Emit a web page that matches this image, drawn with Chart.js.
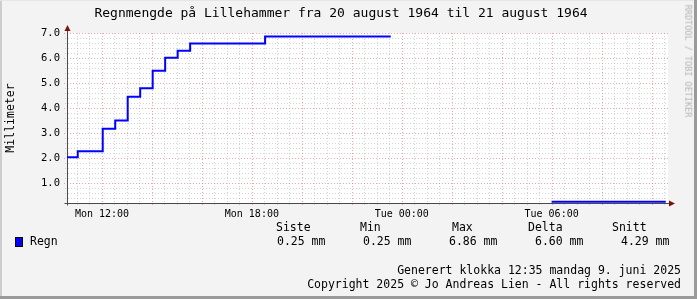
<!DOCTYPE html>
<html>
<head>
<meta charset="utf-8">
<script src="https://cdn.jsdelivr.net/npm/chart.js@4/dist/chart.umd.min.js"></script>
<style>
  html, body { margin: 0; padding: 0; background: #f3f3f3; }
  #wrap { position: relative; width: 697px; height: 299px; background: #f3f3f3; overflow: hidden;
          font-family: "DejaVu Sans Mono", monospace; color: #000; }
  #wrap canvas { position: absolute; left: 0; top: 0; }
  .t { position: absolute; white-space: pre; line-height: 1; }
  .frame { position: absolute; }
</style>
</head>
<body>
<div id="wrap">
  <canvas id="myRainChart" width="697" height="299"></canvas>
  <div class="t" id="title" style="left:0;width:682px;text-align:center;top:6px;font-size:13px;">Regnmengde på Lillehammer fra 20 august 1964 til 21 august 1964</div>
  <div class="t" style="left:11px;top:118px;font-size:11.5px;transform:translate(-50%,-50%) rotate(-90deg);">Millimeter</div>
  <div class="t" style="left:688px;top:61px;font-size:8.5px;color:#b4b4b4;transform:translate(-50%,-50%) rotate(90deg);">RRDTOOL / TOBI OETIKER</div>
  <div id="legend"></div>
  <div class="t" style="right:16px;top:265px;font-size:11.5px;">Generert klokka 12:35 mandag 9. juni 2025</div>
  <div class="t" style="right:16px;top:279px;font-size:11.5px;">Copyright 2025 © Jo Andreas Lien - All rights reserved</div>
  <div class="frame" style="left:0;top:0;width:2px;height:299px;background:#cdcdcd;"></div>
  <div class="frame" style="left:0;top:0;width:697px;height:1px;background:#e6e6e6;"></div>
  <div class="frame" style="right:0;top:0;width:3px;height:299px;background:#9a9a9a;"></div>
  <div class="frame" style="left:0;bottom:0;width:697px;height:3px;background:#9a9a9a;"></div>
</div>
<script>
// hours since Mon 00:00
var stepHours = [10.6, 11.03, 12.03, 12.53, 13.03, 13.53, 14.03, 14.53, 15.03, 15.53, 18.53, 23.56];
var stepValues = [2.03, 2.27, 3.17, 3.50, 4.45, 4.79, 5.49, 6.01, 6.29, 6.58, 6.86, 6.86];
var laterHours = [30.0, 34.57];
var laterValues = [0.25, 0.25];

var xMin = 10.6, xMax = 34.66;
var yMin = 0.2, yMax = 7.0;
var tickHours = [12, 18, 24, 30];
var tickLabels = ["Mon 12:00", "Mon 18:00", "Tue 00:00", "Tue 06:00"];
var yTicks = [1, 2, 3, 4, 5, 6, 7];

var legendHead = ["Siste", "Min", "Max", "Delta", "Snitt"];
var legendVals = ["0.25 mm", "0.25 mm", "6.86 mm", "6.60 mm", "4.29 mm"];

// legend rows (html text)
(function () {
  var lg = document.getElementById("legend");
  var headX = [276, 360, 452, 528, 612];
  var valX = [277, 363, 449, 535, 621];
  var html = '';
  legendHead.forEach(function (h, i) {
    html += '<div class="t" style="left:' + headX[i] + 'px;top:222px;font-size:11.5px;">' + h + '</div>';
  });
  legendVals.forEach(function (v, i) {
    html += '<div class="t" style="left:' + valX[i] + 'px;top:236px;font-size:11.5px;">' + v + '</div>';
  });
  html += '<div class="frame" style="left:15px;top:237px;width:6px;height:8px;background:#0000ff;border:1px solid #000;"></div>';
  html += '<div class="t" style="left:30px;top:236px;font-size:11.5px;">Regn</div>';
  lg.innerHTML = html;
})();

var points = stepHours.map(function (h, i) { return { x: h, y: stepValues[i] }; });
points.push({ x: 27, y: null });
laterHours.forEach(function (h, i) { points.push({ x: h, y: laterValues[i] }); });

// rrd style grid, axes and arrows
var rrdGrid = {
  id: 'rrdGrid',
  beforeDatasetsDraw: function (chart) {
    var c = chart.ctx, a = chart.chartArea;
    var xs = chart.scales.x, ys = chart.scales.y;
    c.save();
    c.fillStyle = '#ffffff';
    c.fillRect(a.left, a.top, a.right - a.left, a.bottom - a.top);
    c.lineWidth = 1;
    c.setLineDash([1, 2]);
    var h, v, px, py;
    // vertical
    for (h = Math.ceil(xMin * 2) / 2; h <= xMax; h += 0.5) {
      px = Math.round(xs.getPixelForValue(h)) + 0.5;
      var major = Math.abs(h / 2 - Math.round(h / 2)) < 1e-6;
      c.strokeStyle = major ? 'rgba(225,110,110,0.6)' : 'rgba(160,160,160,0.45)';
      c.beginPath(); c.moveTo(px, a.top); c.lineTo(px, a.bottom + (major ? 3 : 2)); c.stroke();
    }
    // horizontal
    for (v = 0.4; v <= yMax + 1e-6; v += 0.2) {
      py = Math.round(ys.getPixelForValue(v)) + 0.5;
      var maj = Math.abs(v - Math.round(v)) < 1e-6;
      c.strokeStyle = maj ? 'rgba(225,110,110,0.6)' : 'rgba(160,160,160,0.45)';
      c.beginPath(); c.moveTo(a.left - (maj ? 3 : 2), py); c.lineTo(a.right, py); c.stroke();
    }
    c.setLineDash([]);
    // axes
    c.strokeStyle = '#4a4a4a';
    var ax = Math.round(a.left) + 0.5, ay = Math.round(a.bottom) + 0.5;
    c.beginPath(); c.moveTo(ax, ay + 2); c.lineTo(ax, a.top - 4); c.stroke();
    c.beginPath(); c.moveTo(ax - 3, ay); c.lineTo(a.right + 4, ay); c.stroke();
    c.restore();
  },
  afterDatasetsDraw: function (chart) {
    var c = chart.ctx, a = chart.chartArea;
    var ax = Math.round(a.left) + 0.5, ay = Math.round(a.bottom) + 0.5;
    c.save();
    c.fillStyle = '#7f1010';
    c.beginPath(); c.moveTo(ax - 3, a.top - 2); c.lineTo(ax + 3, a.top - 2); c.lineTo(ax, a.top - 8); c.closePath(); c.fill();
    c.beginPath(); c.moveTo(a.right + 1, ay - 3); c.lineTo(a.right + 1, ay + 3); c.lineTo(a.right + 7, ay); c.closePath(); c.fill();
    c.restore();
  }
};

var ctx = document.getElementById("myRainChart");
var rainChart = new Chart(ctx, {
  type: 'line',
  data: {
    datasets: [{
      label: "Regn",
      data: points,
      stepped: 'before',
      borderColor: "#0000ff",
      borderWidth: 2,
      pointRadius: 0,
      fill: false,
      spanGaps: false
    }]
  },
  options: {
    responsive: false,
    animation: false,
    layout: { padding: { left: 27, right: 29, top: 33, bottom: 0 } },
    scales: {
      x: {
        type: 'linear',
        min: xMin,
        max: xMax,
        grid: { display: false, drawTicks: false },
        border: { display: false },
        afterBuildTicks: function (s) { s.ticks = tickHours.map(function (v) { return { value: v }; }); },
        afterFit: function (s) { s.height = 96; },
        ticks: {
          padding: 5,
          autoSkip: false,
          maxRotation: 0,
          color: '#000',
          font: { family: '"DejaVu Sans Mono"', size: 10 },
          callback: function (v) { var i = tickHours.indexOf(v); return i >= 0 ? tickLabels[i] : ''; }
        }
      },
      y: {
        min: yMin,
        max: yMax,
        grid: { display: false, drawTicks: false },
        border: { display: false },
        afterBuildTicks: function (s) { s.ticks = yTicks.map(function (v) { return { value: v }; }); },
        afterFit: function (s) { s.width = 40; },
        ticks: {
          padding: 7,
          color: '#000',
          font: { family: '"DejaVu Sans Mono"', size: 10.5 },
          callback: function (v) { return Number(v).toFixed(1); }
        }
      }
    },
    plugins: {
      legend: { display: false },
      tooltip: { enabled: false }
    }
  },
  plugins: [rrdGrid]
});
</script>
</body>
</html>
